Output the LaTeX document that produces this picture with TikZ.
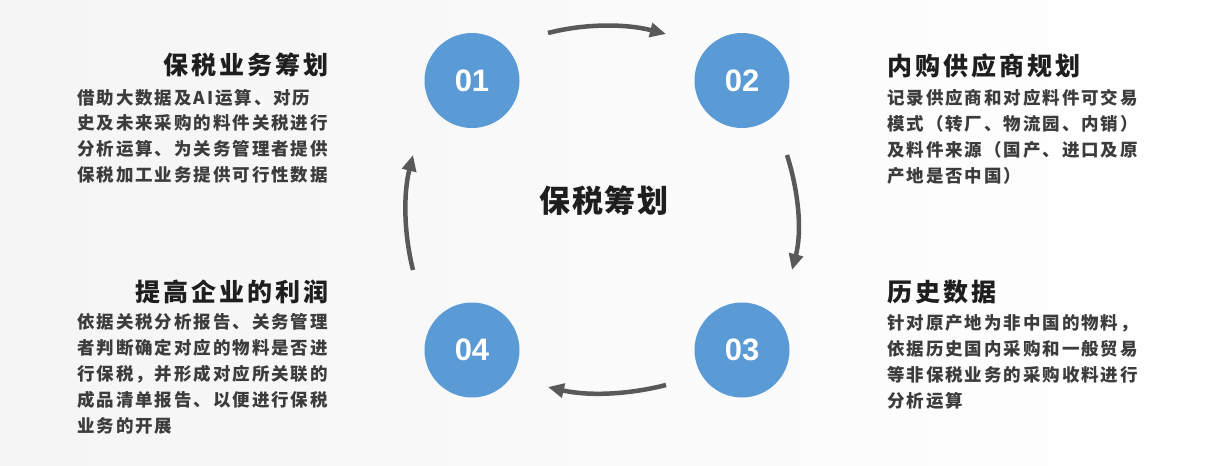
\documentclass[tikz,border=0pt]{standalone}
\usepackage{fontspec}
\setsansfont{Liberation Sans}
\newfontfamily\cjk{Noto Sans CJK SC}
\usetikzlibrary{arrows.meta}
\definecolor{stepblue}{HTML}{5B9BD5}
\definecolor{arrowgray}{HTML}{595959}
\definecolor{titleblack}{HTML}{1E1E1E}
\definecolor{bodygray}{HTML}{3C3C3C}

\begin{document}
\begin{tikzpicture}[x=1pt,y=-1pt,
  stepcircle/.style={circle,fill=stepblue,minimum size=95pt,inner sep=0pt,text=white,
    font=\sffamily\bfseries\fontsize{31}{31}\selectfont},
  cyclearrow/.style={line width=4.5pt,arrowgray,-{Triangle[length=16pt,width=14pt]}},
  titletext/.style={inner sep=0pt,text=titleblack,
    font=\cjk\bfseries\fontsize{25}{25}\selectfont\addfontfeature{LetterSpace=12}},
  bodytext/.style={inner sep=0pt,align=left,text=bodygray,
    font=\cjk\bfseries\fontsize{17.5}{25.8}\selectfont\addfontfeature{LetterSpace=11}}]

  % background
  \useasboundingbox (0,0) rectangle (1224,466);
  \shade[left color=black!4,right color=white] (0,0) rectangle (1224,466);

  % steps
  \node[stepcircle] (s1) at (472,80.5) {01};
  \node[stepcircle] (s2) at (742,80.5) {02};
  \node[stepcircle] (s3) at (742,350) {03};
  \node[stepcircle] (s4) at (472,350) {04};

  \node[titletext,font=\cjk\bfseries\fontsize{31}{31}\selectfont\addfontfeature{LetterSpace=6}] (centre) at (604,201) {保税筹划};

  % arrows round the cycle
  \coordinate (a12s) at (548,33);  \coordinate (a12e) at (666,34);
  \coordinate (a23s) at (787,155); \coordinate (a23e) at (792,270);
  \coordinate (a34s) at (666,385); \coordinate (a34e) at (548,387);
  \coordinate (a41s) at (413,270); \coordinate (a41e) at (413,155);
  \draw[cyclearrow] (a12s) .. controls (587,23) and (627,24) .. (a12e);
  \draw[cyclearrow] (a23s) .. controls (799,193) and (802,232) .. (a23e);
  \draw[cyclearrow] (a34s) .. controls (627,395) and (587,396) .. (a34e);
  \draw[cyclearrow] (a41s) .. controls (403.5,232) and (403.5,193) .. (a41e);

  % texts (base of a body node = baseline of its last line)
  \node[titletext,anchor=base east] (t1) at (329,74.5) {保税业务筹划};
  \node[bodytext,anchor=base west] (b1) at (77,181.4) {借助大数据及AI运算、对历\\史及未来采购的料件关税进行\\分析运算、为关务管理者提供\\保税加工业务提供可行性数据};

  \node[titletext,anchor=base west] (t2) at (887,75) {内购供应商规划};
  \node[bodytext,anchor=base west] (b2) at (887,182) {记录供应商和对应料件可交易\\模式（转厂、物流园、内销）\\及料件来源（国产、进口及原\\产地是否中国）};

  \node[titletext,anchor=base west] (t3) at (887,301.5) {历史数据};
  \node[bodytext,anchor=base west] (b3) at (887,407) {针对原产地为非中国的物料，\\依据历史国内采购和一般贸易\\等非保税业务的采购收料进行\\分析运算};

  \node[titletext,anchor=base east] (t4) at (329,301.5) {提高企业的利润};
  \node[bodytext,anchor=base west] (b4) at (77,432) {依据关税分析报告、关务管理\\者判断确定对应的物料是否进\\行保税，并形成对应所关联的\\成品清单报告、以便进行保税\\业务的开展};
\end{tikzpicture}
\end{document}
